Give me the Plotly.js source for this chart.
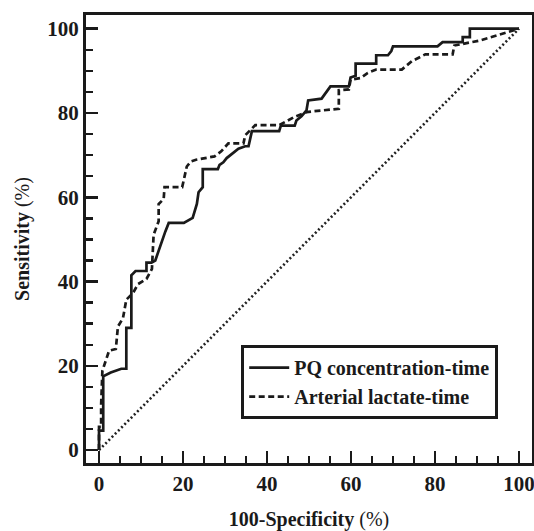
<!DOCTYPE html>
<html>
<head>
<meta charset="utf-8">
<script src="https://cdn.plot.ly/plotly-3.0.1.min.js"></script>
<style>html,body{margin:0;padding:0;background:#fff;}#chart{width:534px;height:531px;}</style>
</head>
<body>
<div id="chart"></div>
<script>
// PQ concentration-time ROC curve (100-specificity %, sensitivity %)
const pqX = [0, 0, 1.0, 1.0, 2.8, 5.3, 6.5, 6.5, 7.7, 7.7, 8.7, 11.3, 11.3, 12.5, 13.4, 14.6, 15.8, 16.6, 20.2, 22.3, 23.3, 23.7, 24.7, 24.7, 28.3, 28.7, 29.6, 30.4, 31.3, 32.2, 33.2, 34.8, 35.6, 36.4, 42.9, 43.3, 46.6, 47.0, 48.2, 49.4, 49.8, 53.0, 53.8, 55.1, 59.5, 59.9, 61.1, 61.1, 66.0, 66.0, 68.8, 69.6, 70.0, 80.6, 81.8, 86.6, 86.6, 88.3, 88.3, 100];
const pqY = [0, 4.6, 4.6, 17.5, 18.4, 19.3, 19.3, 29.0, 29.0, 41.5, 42.5, 42.5, 44.5, 44.5, 45.0, 48.7, 51.9, 53.9, 53.9, 55.1, 58.4, 61.2, 62.4, 66.7, 66.7, 67.7, 68.3, 69.3, 70.0, 70.9, 71.5, 72.1, 72.1, 75.7, 75.7, 77.0, 77.0, 78.2, 79.2, 80.6, 83.0, 83.4, 84.6, 86.3, 86.3, 88.4, 88.8, 91.7, 91.7, 93.7, 93.7, 94.7, 95.8, 95.8, 96.8, 96.8, 98.0, 98.0, 100, 100];
// Arterial lactate-time ROC curve
const laX = [0, 0, 0.5, 0.5, 0.8, 2.4, 4.0, 4.5, 5.7, 6.5, 8.1, 9.3, 11.3, 12.6, 13.0, 14.2, 14.2, 15.4, 15.6, 19.8, 20.9, 21.9, 23.1, 27.5, 29.1, 30.8, 34.4, 34.8, 37.2, 42.9, 46.6, 49.4, 51.0, 57.1, 57.1, 59.5, 59.9, 62.3, 64.0, 66.0, 72.1, 74.5, 77.7, 84.2, 84.6, 86.6, 90.7, 94.7, 100];
const laY = [0, 5.5, 5.5, 10.7, 18.8, 23.6, 24.0, 29.3, 31.3, 35.7, 37.3, 39.4, 40.6, 43.0, 51.1, 54.3, 58.4, 59.6, 62.4, 62.4, 67.3, 68.5, 68.9, 69.7, 70.9, 72.8, 72.8, 74.7, 77.1, 77.1, 79.1, 80.2, 80.4, 81.0, 85.4, 85.6, 87.9, 88.3, 89.5, 90.3, 90.3, 92.3, 93.9, 93.9, 96.0, 96.4, 97.2, 98.4, 100];
// reference diagonal
const refX = [0, 100];
const refY = [0, 100];
const seriesNames = ["PQ concentration-time", "Arterial lactate-time"];
const xTickVals = [0, 20, 40, 60, 80, 100];
const yTickVals = [0, 20, 40, 60, 80, 100];

const serif = "Liberation Serif, Times New Roman, serif";
const ink = "#1a1a1a";
const traces = [
  {x: pqX, y: pqY, type: "scatter", mode: "lines", name: seriesNames[0],
   line: {color: ink, width: 2.7}},
  {x: laX, y: laY, type: "scatter", mode: "lines", name: seriesNames[1],
   line: {color: ink, width: 2.7, dash: "6px,3.5px"}},
  {x: refX, y: refY, type: "scatter", mode: "lines", showlegend: false,
   line: {color: "#222", width: 2.6, dash: "2px,2.5px"}, hoverinfo: "skip"}
];
const layout = {
  width: 534, height: 531,
  margin: {l: 86, r: 2, t: 15, b: 68},
  showlegend: true,
  xaxis: {
    range: [-3.1, 103.1], showline: true, mirror: true, linewidth: 3, linecolor: ink,
    ticks: "inside", ticklen: 12, tickwidth: 2.5, tickcolor: ink, showgrid: false, zeroline: false,
    tickmode: "linear", tick0: xTickVals[0], dtick: xTickVals[1] - xTickVals[0],
    ticklabeloverflow: "allow",
    tickfont: {family: serif, size: 21, color: ink, weight: "bold"},
    minor: {tickmode: "linear", tick0: 0, dtick: 5, ticks: "inside", ticklen: 7, tickwidth: 2.5, tickcolor: ink},
    title: {text: "<b>100-Specificity</b> (%)", font: {family: serif, size: 20, color: ink}, standoff: 36}
  },
  yaxis: {
    range: [-3.06, 103.25], showline: true, mirror: true, linewidth: 3, linecolor: ink,
    ticks: "inside", ticklen: 12, tickwidth: 2.5, tickcolor: ink, showgrid: false, zeroline: false,
    tickmode: "linear", tick0: yTickVals[0], dtick: yTickVals[1] - yTickVals[0],
    tickfont: {family: serif, size: 21, color: ink, weight: "bold"},
    minor: {tickmode: "linear", tick0: 0, dtick: 5, ticks: "inside", ticklen: 7, tickwidth: 2.5, tickcolor: ink},
    title: {text: "<b>Sensitivity</b> (%)", font: {family: serif, size: 20, color: ink}, standoff: 13}
  },
  legend: {
    x: 0.348, y: 0.263, xanchor: "left", yanchor: "top",
    bgcolor: "#fff", bordercolor: ink, borderwidth: 3,
    font: {family: serif, size: 20, color: ink, weight: "bold"},
    itemwidth: 40, tracegroupgap: 0
  }
};
Plotly.newPlot("chart", traces, layout, {staticPlot: true, displayModeBar: false});
</script>
</body>
</html>
